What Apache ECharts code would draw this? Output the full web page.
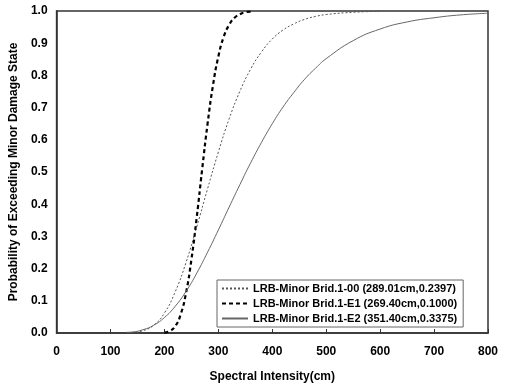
<!DOCTYPE html>
<html><head><meta charset="utf-8">
<script src="https://cdn.jsdelivr.net/npm/echarts@6/dist/echarts.min.js"></script>
<style>html,body{margin:0;padding:0;background:#fff}#c{width:505px;height:388px}</style>
</head><body><div id="c"></div>
<script>
const xTicks = [0,100,200,300,400,500,600,700,800];
const seriesNames = ['LRB-Minor Brid.1-00 (289.01cm,0.2397)','LRB-Minor Brid.1-E1 (269.40cm,0.1000)','LRB-Minor Brid.1-E2 (351.40cm,0.3375)'];
const x00 = [140,160,180,200,220,240,260,280,300,320,340,360,380,400,420,440,460,480,500,550,600];
const y00 = [0.001,0.007,0.024,0.062,0.128,0.219,0.330,0.448,0.562,0.665,0.751,0.820,0.873,0.913,0.941,0.960,0.974,0.983,0.989,0.996,0.999];
const xE1 = [200,210,220,230,240,250,260,270,280,290,300,310,320,330,340,350,360];
const yE1 = [0.001,0.006,0.021,0.057,0.124,0.228,0.361,0.509,0.650,0.769,0.859,0.920,0.957,0.979,0.990,0.996,0.998];
const xE2 = [130,140,160,180,200,220,240,260,280,300,320,340,360,380,400,420,440,460,480,500,550,600,650,700,750,800];
const yE2 = [0.002,0.003,0.010,0.024,0.048,0.083,0.129,0.186,0.251,0.320,0.391,0.461,0.529,0.592,0.650,0.702,0.747,0.788,0.822,0.852,0.908,0.944,0.966,0.979,0.988,0.993];

const pair = (xs, ys) => xs.map((x, i) => [x, ys[i]]);
const font = 'Arial, "Liberation Sans", sans-serif';
const chart = echarts.init(document.getElementById('c'));
chart.setOption({
  animation: false,
  grid: {left: 56, right: 17, top: 11, bottom: 53, show: true, borderColor: '#333', borderWidth: 1.5},
  xAxis: {
    type: 'value', min: 0, max: 800, interval: 100,
    name: 'Spectral Intensity(cm)', nameLocation: 'middle', nameGap: 38,
    nameTextStyle: {fontFamily: font, fontWeight: 'bold', fontSize: 12, color: '#000'},
    axisLine: {lineStyle: {color: '#333', width: 1.5}},
    axisTick: {inside: true, length: 4, lineStyle: {color: '#333'}},
    axisLabel: {fontFamily: font, fontWeight: 'bold', fontSize: 12, color: '#000', margin: 13},
    splitLine: {show: false}
  },
  yAxis: {
    type: 'value', min: 0, max: 1, interval: 0.1,
    name: 'Probability of Exceeding Minor Damage State', nameLocation: 'middle', nameGap: 34,
    nameTextStyle: {fontFamily: font, fontWeight: 'bold', fontSize: 12, color: '#000'},
    axisLine: {lineStyle: {color: '#333', width: 1.5}},
    axisTick: {show: false},
    axisLabel: {fontFamily: font, fontWeight: 'bold', fontSize: 12, color: '#000', margin: 9,
      formatter: v => v.toFixed(1)},
    splitLine: {show: false}
  },
  legend: {
    left: 217, top: 280, orient: 'vertical', itemGap: 4, itemWidth: 26, itemHeight: 10,
    backgroundColor: '#fff', borderColor: '#666', borderWidth: 1, padding: [3, 6, 3, 4],
    itemStyle: {opacity: 0},
    textStyle: {fontFamily: font, fontWeight: 'bold', fontSize: 11, color: '#000'},
    data: seriesNames
  },
  series: [
    {name: seriesNames[0], type: 'line', data: pair(x00, y00), showSymbol: false, symbol: 'none', smooth: true,
      color: '#555', lineStyle: {color: '#555', width: 1, type: [2, 2]}},
    {name: seriesNames[1], type: 'line', data: pair(xE1, yE1), showSymbol: false, symbol: 'none', smooth: true,
      color: '#000', lineStyle: {color: '#000', width: 2.2, type: [4, 3]}},
    {name: seriesNames[2], type: 'line', data: pair(xE2, yE2), showSymbol: false, symbol: 'none', smooth: true,
      color: '#666', lineStyle: {color: '#666', width: 1, type: 'solid'}}
  ]
});
</script></body></html>
